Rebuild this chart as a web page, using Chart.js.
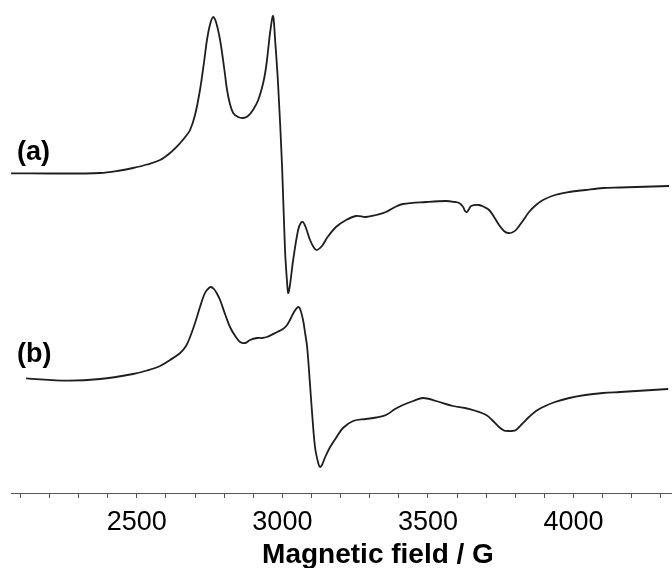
<!DOCTYPE html>
<html>
<head>
<meta charset="utf-8">
<script src="https://cdn.jsdelivr.net/npm/chart.js@4/dist/chart.umd.min.js"></script>
<style>
  html, body { margin: 0; padding: 0; background: #ffffff; }
  #wrap { width: 672px; height: 568px; position: relative; }
</style>
</head>
<body>
<div id="wrap"><canvas id="c"></canvas></div>
<script>
// Magnetic field (G) and EPR derivative signal (a.u.)
const fieldA = [2068,2202,2374,2443,2487,2535,2580,2614,2649,2669,2683,2700,2717,2731,2741,2752,2762,2772,2786,2800,2810,2820,2831,2848,2865,2882,2899,2917,2934,2944,2951,2958,2968,2975,2985,2999,3009,3016,3020,3026,3037,3054,3064,3071,3081,3095,3109,3119,3136,3153,3184,3219,3253,3287,3322,3356,3387,3414,3493,3562,3593,3607,3621,3627,3634,3641,3648,3675,3693,3710,3727,3744,3761,3775,3789,3802,3823,3847,3871,3895,3936,3985,4040,4101,4160,4215,4328];
const signalA = [-0.3,-0.5,0,2.5,5,8.5,13,20,30,37,43,58,83,111,133,149,156,151,133,105,83,69,60,56,55,57,63,73,90,106,123,141,157,133,90,6,-77,-109,-120,-112,-87,-57,-49.5,-49,-55,-67,-75,-77,-73,-65,-54,-47,-43,-44,-42,-39,-34,-31,-29,-28,-29,-30,-34,-38,-39,-36,-33,-32,-34,-37,-44,-52,-58,-60,-59.5,-57,-49,-39,-32,-27,-22,-19,-17,-15,-14.5,-14,-13];

const fieldB = [2120,2261,2374,2487,2535,2580,2614,2649,2669,2683,2700,2717,2731,2741,2753,2765,2776,2786,2803,2820,2838,2855,2872,2889,2913,2930,2947,2982,3002,3016,3026,3040,3054,3061,3071,3078,3085,3095,3102,3112,3123,3129,3136,3147,3164,3184,3208,3243,3287,3322,3356,3387,3414,3449,3483,3528,3586,3627,3665,3700,3720,3744,3761,3775,3789,3802,3823,3847,3871,3895,3936,3985,4040,4101,4160,4215,4325];
const signalB = [-0.3,-2.7,-1,4,7.5,12,18,25,32,41,55,71,83,88,91,89,84,78,64,51,42,36,35,38,40,40,41,46,49,53,58,66,71,69,58,45,31,-7,-35,-69,-85,-89,-87,-79,-69,-60,-50,-43,-41,-39.5,-37,-31,-27,-23,-20,-23,-28,-30,-33,-37,-42,-49,-52.5,-53,-53,-52,-46,-39,-33,-29,-24,-20,-17,-15,-14,-13,-11];

const tickValues = [2100,2200,2300,2400,2500,2600,2700,2800,2900,3000,3100,3200,3300,3400,3500,3600,3700,3800,3900,4000,4100,4200,4300];
const tickLabels = [2500,3000,3500,4000];
const traceLabels = ['(a)', '(b)'];
const axisTitle = 'Magnetic field / G';

// vertical display offsets of the stacked traces
const offsetA = 320;
const offsetB = 115;

const toPoints = (xs, ys, off) => xs.map((x, i) => ({ x: x, y: ys[i] + off }));

const annot = {
  id: 'annot',
  afterDraw(chart) {
    const ctx = chart.ctx;
    const ys = chart.scales.y;
    ctx.save();
    ctx.fillStyle = '#000';
    ctx.textBaseline = 'middle';
    ctx.textAlign = 'left';
    ctx.font = 'bold 27px "Liberation Sans", Arial, sans-serif';
    ctx.fillText(traceLabels[0], 17, ys.getPixelForValue(offsetA + 20));
    ctx.fillText(traceLabels[1], 17, ys.getPixelForValue(offsetB + 23));
    ctx.textAlign = 'center';
    ctx.font = 'bold 28px "Liberation Sans", Arial, sans-serif';
    ctx.fillText(axisTitle, 378, 555);
    ctx.restore();
  }
};

new Chart(document.getElementById('c'), {
  type: 'line',
  data: {
    datasets: [
      { data: toPoints(fieldA, signalA, offsetA), borderColor: '#1e1e1e', borderWidth: 1.8, pointRadius: 0, tension: 0.35, fill: false },
      { data: toPoints(fieldB, signalB, offsetB), borderColor: '#1e1e1e', borderWidth: 1.8, pointRadius: 0, tension: 0.35, fill: false }
    ]
  },
  options: {
    responsive: true,
    maintainAspectRatio: false,
    animation: false,
    layout: { padding: { left: 11, right: 0, top: 0, bottom: 0 } },
    plugins: { legend: { display: false }, tooltip: { enabled: false }, title: { display: false } },
    scales: {
      x: {
        type: 'linear',
        min: 2068,
        max: 4338,
        afterBuildTicks: (s) => { s.ticks = tickValues.map(v => ({ value: v })); },
        afterFit: (s) => { s.height = 75; },
        grid: { display: true, drawOnChartArea: false, drawTicks: true, tickLength: 5, color: '#555', lineWidth: 1 },
        border: { display: true, color: '#555', width: 1 },
        ticks: {
          autoSkip: false,
          maxRotation: 0,
          padding: 8,
          color: '#000',
          font: { family: '"Liberation Sans", Arial, sans-serif', size: 27, lineHeight: 1.2 },
          callback: (v) => tickLabels.includes(v) ? String(v) : ''
        }
      },
      y: {
        type: 'linear',
        display: false,
        min: 0,
        max: 493
      }
    }
  },
  plugins: [annot]
});
</script>
</body>
</html>
